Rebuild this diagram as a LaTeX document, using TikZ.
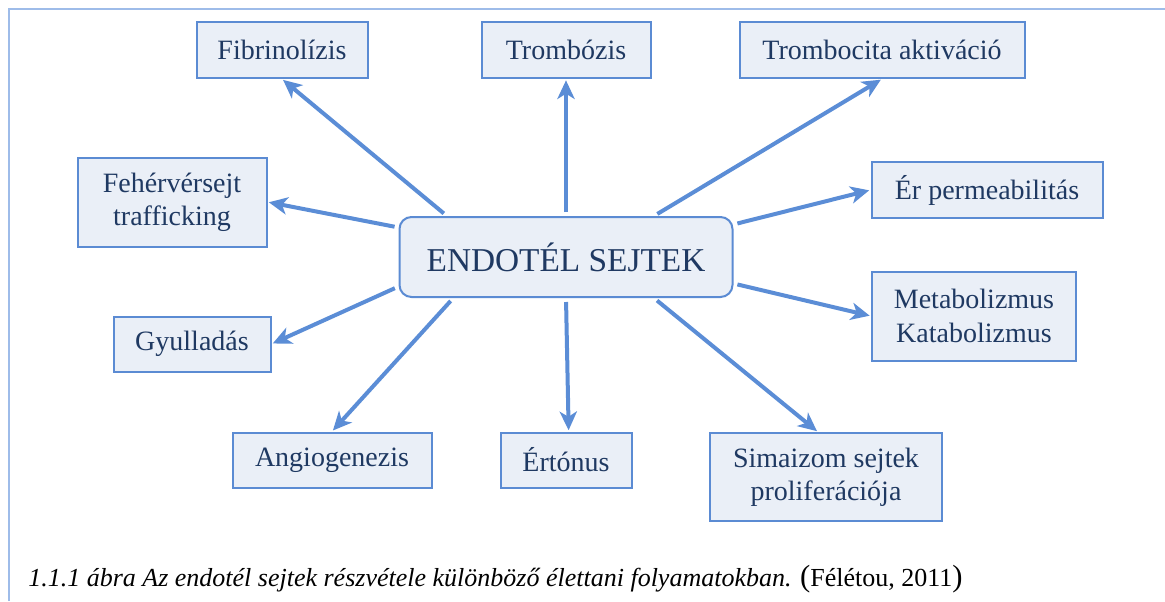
\documentclass[tikz,border=0pt]{standalone}
\usepackage{fontspec}
\setmainfont{Liberation Serif}
\usetikzlibrary{arrows.meta}
\definecolor{boxline}{HTML}{5B8BD3}
\definecolor{boxfill}{HTML}{EAEFF7}
\definecolor{boxtext}{HTML}{1F3962}
\definecolor{arrowblue}{HTML}{5B8DD6}
\definecolor{frameblue}{HTML}{9EBCE9}
\tikzset{
  box/.style={draw=boxline, fill=boxfill, text=boxtext, line width=1.5pt,
    font=\fontsize{21}{25}\selectfont, align=center, inner sep=0pt},
  hub/.style={box, rounded corners=9pt, font=\fontsize{25}{30}\selectfont},
  link/.style={draw=arrowblue, line width=3pt, shorten <=3pt, shorten >=1pt,
    -{Stealth[length=14pt,width=13pt,inset=4pt]}},
}
\begin{document}
\begin{tikzpicture}[x=0.75pt,y=-0.75pt]
\useasboundingbox (0,0) rectangle (1165,601);
\draw[frameblue, line width=1.5pt] (9,601) -- (9,9) -- (1165,9);
% centre
\node[hub, minimum width=333*0.75pt, minimum height=80*0.75pt] (endo) at (566,257) {ENDOTÉL SEJTEK};
% processes
\node[box, minimum width=171*0.75pt, minimum height=56*0.75pt] (fib) at (282,50) {Fibrinolízis};
\node[box, minimum width=169*0.75pt, minimum height=56*0.75pt] (tromb) at (566,50) {Trombózis};
\node[box, minimum width=285*0.75pt, minimum height=56*0.75pt] (aktiv) at (882,50) {Trombocita aktiváció};
\node[box, minimum width=189*0.75pt, minimum height=89*0.75pt] (feher) at (172,202) {Fehérvérsejt\\trafficking};
\node[box, minimum width=231*0.75pt, minimum height=56*0.75pt] (perm) at (987,190) {Ér permeabilitás};
\node[box, minimum width=204*0.75pt, minimum height=89*0.75pt] (meta) at (974,316) {Metabolizmus\\Katabolizmus};
\node[box, minimum width=157*0.75pt, minimum height=55*0.75pt] (gyull) at (192,344) {Gyulladás};
\node[box, minimum width=199*0.75pt, minimum height=55*0.75pt] (angio) at (332,460) {Angiogenezis};
\node[box, minimum width=131*0.75pt, minimum height=55*0.75pt] (erto) at (566,460) {Értónus};
\node[box, minimum width=232*0.75pt, minimum height=88*0.75pt] (sima) at (826,477) {Simaizom sejtek\\proliferációja};
% arrows
\draw[link] (endo.161) -- (fib.south);
\draw[link] (endo.north) -- (tromb.south);
\draw[link] (endo.25) -- (aktiv.south);
\draw[link] (endo.170) -- (feher.east);
\draw[link] (endo.11) -- (perm.west);
\draw[link] (endo.-9) -- (meta.west);
\draw[link] (endo.190) -- (gyull.east);
\draw[link] (endo.200) -- (angio.north);
\draw[link] (endo.south) -- ([xshift=2pt]erto.north);
\draw[link] (endo.-25) -- ([xshift=-6pt]sima.north);
% caption
\node[anchor=base west, font=\fontsize{19.5}{22}\selectfont, inner sep=0pt] (caption) at (28,586)
  {\textit{1.1.1 ábra Az endotél sejtek részvétele különböző élettani folyamatokban.}
   {\fontsize{23}{23}\selectfont(}Félétou, 2011{\fontsize{23}{23}\selectfont)}};
\end{tikzpicture}
\end{document}
